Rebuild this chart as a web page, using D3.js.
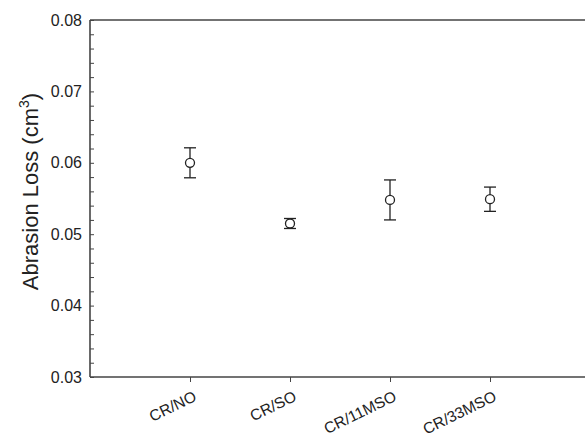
<!DOCTYPE html>
<html>
<head>
  <meta charset="utf-8">
  <script src="https://d3js.org/d3.v7.min.js"></script>
  <style>
    body { margin: 0; background: #fff; font-family: Arial, "Liberation Sans", sans-serif; }
    .tick text { fill: #222; }
  </style>
</head>
<body>
  <div id="chart"></div>
  <script>
    // data
    const samples = ["CR/NO", "CR/SO", "CR/11MSO", "CR/33MSO"];
    const loss = [0.0600, 0.0515, 0.0548, 0.0549];
    const errors = [0.0021, 0.0007, 0.0028, 0.0017];
    const yTicks = [0.03, 0.04, 0.05, 0.06, 0.07, 0.08];

    const W = 585, H = 440;
    const margin = { top: 20, left: 90, bottom: 63 };
    const font = "Arial, 'Liberation Sans', sans-serif";

    const svg = d3.select("#chart").append("svg")
      .attr("width", W).attr("height", H);

    const x = d3.scaleLinear().domain([0, 5]).range([margin.left, margin.left + 500]);
    const y = d3.scaleLinear().domain([0.03, 0.08]).range([H - margin.bottom, margin.top]);

    const data = samples.map((s, i) => ({ name: s, pos: i + 1, v: loss[i], e: errors[i] }));

    // y axis with minor ticks inside
    svg.append("g")
      .attr("transform", `translate(${margin.left},0)`)
      .call(d3.axisRight(y).tickValues(d3.range(0.03, 0.0801, 0.002)).tickSize(4).tickFormat(""))
      .call(g => g.select(".domain").remove())
      .call(g => g.selectAll("line").attr("stroke", "#444"));

    svg.append("g")
      .attr("transform", `translate(${margin.left},0)`)
      .call(d3.axisLeft(y).tickValues(yTicks).tickSize(0).tickPadding(8).tickFormat(d3.format(".2f")))
      .call(g => g.select(".domain").remove())
      .call(g => g.selectAll("text").attr("font-size", 16).attr("font-family", font));

    // frame lines: left and top
    svg.append("line")
      .attr("x1", margin.left).attr("x2", margin.left)
      .attr("y1", y(0.08)).attr("y2", y(0.03))
      .attr("stroke", "#444").attr("stroke-width", 1.6);
    svg.append("line")
      .attr("x1", margin.left).attr("x2", W)
      .attr("y1", y(0.08)).attr("y2", y(0.08))
      .attr("stroke", "#444").attr("stroke-width", 1.6);

    // x axis
    const xAxis = svg.append("g")
      .attr("transform", `translate(0,${y(0.03)})`)
      .call(d3.axisBottom(x).tickValues(data.map(d => d.pos))
        .tickFormat((d, i) => samples[i]).tickSize(5).tickSizeOuter(0))
      .call(g => g.select(".domain").attr("stroke", "#444").attr("stroke-width", 1.6)
        .attr("d", `M${margin.left},0H${W}`))
      .call(g => g.selectAll("line").attr("stroke", "#444"));

    xAxis.selectAll("text")
      .attr("font-size", 15.5)
      .attr("font-family", font)
      .attr("text-anchor", "end")
      .attr("dy", "0")
      .attr("y", 0)
      .attr("transform", "translate(7,23) rotate(-26)");

    // y label
    const lbl = svg.append("text")
      .attr("transform", `translate(38,${(y(0.08) + y(0.03)) / 2 - 7}) rotate(-90)`)
      .attr("text-anchor", "middle")
      .attr("font-size", 22)
      .attr("fill", "#222")
      .attr("font-family", font);
    lbl.append("tspan").text("Abrasion Loss (cm");
    lbl.append("tspan").attr("dy", -9).attr("font-size", 14).text("3");
    lbl.append("tspan").attr("dy", 9).text(")");

    // error bars
    const g = svg.append("g").attr("stroke", "#222").attr("stroke-width", 1.3).attr("fill", "none");
    g.selectAll(".eb").data(data).join("line")
      .attr("x1", d => x(d.pos)).attr("x2", d => x(d.pos))
      .attr("y1", d => y(d.v + d.e)).attr("y2", d => y(d.v - d.e));
    g.selectAll(".capT").data(data).join("line")
      .attr("x1", d => x(d.pos) - 6).attr("x2", d => x(d.pos) + 6)
      .attr("y1", d => y(d.v + d.e)).attr("y2", d => y(d.v + d.e));
    g.selectAll(".capB").data(data).join("line")
      .attr("x1", d => x(d.pos) - 6).attr("x2", d => x(d.pos) + 6)
      .attr("y1", d => y(d.v - d.e)).attr("y2", d => y(d.v - d.e));
    g.selectAll("circle").data(data).join("circle")
      .attr("cx", d => x(d.pos)).attr("cy", d => y(d.v))
      .attr("r", 4.5).attr("fill", "#fff");
  </script>
</body>
</html>
